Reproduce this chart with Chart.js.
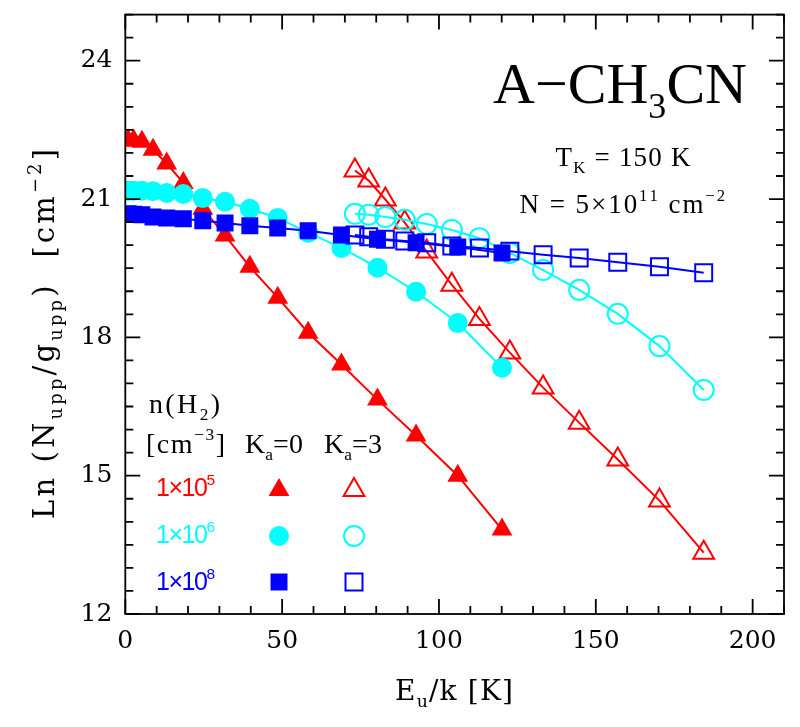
<!DOCTYPE html>
<html><head><meta charset="utf-8">
<script src="https://cdn.jsdelivr.net/npm/chart.js@4/dist/chart.umd.min.js"></script>
<style>html,body{margin:0;padding:0;background:#fff}#wrap{width:800px;height:727px;position:relative}</style>
</head><body><div id="wrap"><canvas id="c" width="800" height="727"></canvas></div>
<script>
// Upper-level energies (K) of the K=0 and K=3 ladders
const eK0 = [0.88,2.65,5.30,8.83,13.2,18.5,24.7,31.8,39.7,48.6,58.3,68.9,80.4,92.7,106.0,120.1];
const eK3 = [73.2,77.6,82.9,89.1,96.1,104.1,112.9,122.6,133.2,144.7,157.0,170.3,184.4];
// Ln(Nupp/gupp) for n(H2)=1e5, 1e6, 1e8
const red_K0  = [22.27,22.27,22.24,22.07,21.77,21.35,20.79,20.21,19.53,18.86,18.10,17.41,16.65,15.87,15.00,13.83];
const red_K3  = [21.62,21.40,20.99,20.49,19.86,19.14,18.40,17.67,16.91,16.15,15.35,14.46,13.33];
const cyan_K0 = [21.18,21.18,21.18,21.17,21.13,21.11,21.02,20.94,20.79,20.59,20.27,19.94,19.51,18.99,18.31,17.34];
const cyan_K3 = [20.68,20.66,20.61,20.55,20.46,20.33,20.15,19.83,19.46,19.03,18.51,17.81,16.86];
const blue_K0 = [20.68,20.67,20.66,20.61,20.59,20.57,20.53,20.48,20.42,20.37,20.31,20.22,20.13,20.05,19.96,19.83];
const blue_K3 = [20.22,20.18,20.13,20.09,20.05,19.98,19.94,19.87,19.79,19.72,19.63,19.53,19.40];
const densityExp = ['5','6','8'];
const xTickVals = [0,50,100,150,200];
const yTickVals = [12,15,18,21,24];

const RED='#ff0000', CYAN='#00ffff', BLUE='#0000ff';
const R_TRI = 12, R_CIR = 10, R_SQ = 12;
const zip = (xs, ys) => xs.map((x,i)=>({x, y: ys[i]}));

function ds(xs, ys, color, style, filled, radius){
  return {
    data: zip(xs, ys), showLine: true, borderColor: color, borderWidth: 2,
    backgroundColor: filled ? color : 'rgba(0,0,0,0)',
    pointBackgroundColor: filled ? color : 'rgba(0,0,0,0)',
    pointBorderColor: color, pointBorderWidth: filled ? 0 : 2,
    pointStyle: style, pointRadius: radius, pointHoverRadius: radius, tension: 0
  };
}

function drawRich(ctx, segs, o){
  const size=o.size, fam=o.family;
  ctx.letterSpacing = '0px';
  const parts = segs.map(([t,m]) => {
    const fs = m ? size*0.62 : size;
    ctx.font = fs + 'px "' + fam + '"';
    return {t, m, fs, w: ctx.measureText(t).width, n: [...t].length};
  });
  const nat = parts.reduce((a,p)=>a+p.w,0);
  const n = parts.reduce((a,p)=>a+p.n,0);
  const ls = o.width ? (o.width - nat)/(n-1) : 0;
  const total = nat + ls*(n-1);
  let cx = o.align==='center' ? o.x - total/2 : o.align==='right' ? o.x - total : o.x;
  ctx.fillStyle = o.color || '#000';
  ctx.textAlign='left'; ctx.textBaseline='alphabetic';
  for (const p of parts){
    ctx.font = p.fs + 'px "' + fam + '"';
    const dy = p.m === -1 ? size*0.26 : p.m === 1 ? -size*0.45 : 0;
    let px = cx;
    for (const ch of [...p.t]) {
      ctx.fillText(ch, px, o.y + dy);
      px += ctx.measureText(ch).width + ls;
    }
    cx = px;
  }
}

function marker(ctx, style, x, y, r, color, filled){
  ctx.save();
  ctx.beginPath();
  if (style==='triangle'){
    const w = r*Math.sin(2*Math.PI/3);
    ctx.moveTo(x, y-r); ctx.lineTo(x+w, y+r/2); ctx.lineTo(x-w, y+r/2); ctx.closePath();
  } else if (style==='circle'){
    ctx.arc(x, y, r, 0, Math.PI*2);
  } else {
    const s = r*Math.SQRT1_2; ctx.rect(x-s, y-s, 2*s, 2*s);
  }
  if (filled){ ctx.fillStyle=color; ctx.fill(); }
  else { ctx.strokeStyle=color; ctx.lineWidth=2; ctx.stroke(); }
  ctx.restore();
}

const decor = {
  id: 'decor',
  afterDraw(chart){
    const ctx = chart.ctx, xs = chart.scales.x, ys = chart.scales.y;
    const {left,right,top,bottom} = chart.chartArea;
    ctx.save();
    ctx.strokeStyle='#000'; ctx.lineWidth=1.8;
    ctx.strokeRect(left, top, right-left, bottom-top);
    ctx.beginPath();
    for (let i=0;i<=21;i++){
      const px = xs.getPixelForValue(i*10);
      const len = (i%5===0) ? 15 : 8;
      ctx.moveTo(px, bottom); ctx.lineTo(px, bottom-len);
      ctx.moveTo(px, top); ctx.lineTo(px, top+len);
    }
    for (let i=0;i<=26;i++){
      const py = ys.getPixelForValue(12+i*0.5);
      const len = (i%6===0) ? 15 : 8;
      ctx.moveTo(left, py); ctx.lineTo(left+len, py);
      ctx.moveTo(right, py); ctx.lineTo(right-len, py);
    }
    ctx.stroke();

    const SERIF='Liberation Serif', DSERIF='DejaVu Serif', SANS='Liberation Sans';
    // title block
    drawRich(ctx, [['A\u2212CH',0],['3',-1],['CN',0]], {x:620, y:103, size:58, family:SERIF, align:'center', width:254});
    drawRich(ctx, [['T',0],['K',-1],[' = 150 K',0]], {x:623, y:166, size:27, family:SERIF, align:'center', width:135});
    drawRich(ctx, [['N = 5\u00d710',0],['11',1],[' cm',0],['\u22122',1]], {x:622, y:213, size:27, family:SERIF, align:'center', width:205});
    // axis titles
    drawRich(ctx, [['E',0],['u',-1],['/k [K]',0]], {x:454, y:700, size:28, family:DSERIF, align:'center', width:118});
    ctx.save(); ctx.translate(54, 334); ctx.rotate(-Math.PI/2);
    drawRich(ctx, [['Ln (N',0],['upp',-1],['/g',0],['upp',-1],[')  [cm',0],['\u22122',1],[']',0]], {x:0, y:0, size:29, family:DSERIF, align:'center', width:370});
    ctx.restore();
    // legend block
    drawRich(ctx, [['n(H',0],['2',-1],[')',0]], {x:149, y:413, size:28, family:SERIF, align:'left', width:71});
    drawRich(ctx, [['[cm',0],['\u22123',1],[']',0]], {x:146, y:453, size:28, family:SERIF, align:'left', width:79});
    drawRich(ctx, [['K',0],['a',-1],['=0',0]], {x:245, y:453, size:28, family:SERIF, align:'left', width:58});
    drawRich(ctx, [['K',0],['a',-1],['=3',0]], {x:324, y:453, size:28, family:SERIF, align:'left', width:58});
    const cols=[RED,CYAN,BLUE], styles=['triangle','circle','rect'], radii=[R_TRI,R_CIR,R_SQ], rowY=[496,543,590], mY=[490,536,582];
    for (let k=0;k<3;k++){
      drawRich(ctx, [['1\u00d710',0],[densityExp[k],1]], {x:156, y:rowY[k], size:25, family:SANS, align:'left', color:cols[k], width:59});
      marker(ctx, styles[k], 279, mY[k], radii[k], cols[k], true);
      marker(ctx, styles[k], 354, mY[k], radii[k], cols[k], false);
    }
    ctx.restore();
  }
};

new Chart(document.getElementById('c'), {
  type: 'scatter',
  data: { datasets: [
    ds(eK0, blue_K0, BLUE, 'rect', true, R_SQ),
    ds(eK3, blue_K3, BLUE, 'rect', false, R_SQ),
    ds(eK0, cyan_K0, CYAN, 'circle', true, R_CIR),
    ds(eK3, cyan_K3, CYAN, 'circle', false, R_CIR),
    ds(eK0, red_K0, RED, 'triangle', true, R_TRI),
    ds(eK3, red_K3, RED, 'triangle', false, R_TRI)
  ]},
  options: {
    responsive:false, animation:false, devicePixelRatio:1,
    layout:{padding:{top:14.6, right:16, left:0, bottom:0}},
    plugins:{legend:{display:false}, tooltip:{enabled:false}},
    events: [],
    scales:{
      x:{type:'linear', min:0, max:210,
         grid:{display:false, drawTicks:false}, border:{display:false},
         afterBuildTicks: s => { s.ticks = xTickVals.map(v=>({value:v})); },
         ticks:{font:{family:'DejaVu Serif', size:25}, color:'#000', padding:12, maxRotation:0, autoSkip:false},
         afterFit: s => { s.height = 113; s.paddingLeft = 0; s.paddingRight = 0; }},
      y:{type:'linear', min:12, max:25,
         grid:{display:false, drawTicks:false}, border:{display:false},
         afterBuildTicks: s => { s.ticks = yTickVals.map(v=>({value:v})); },
         ticks:{font:{family:'DejaVu Serif', size:25}, color:'#000', padding:13, autoSkip:false},
         afterFit: s => { s.width = 125.3; s.paddingTop = 0; s.paddingBottom = 0; }}
    }
  },
  plugins:[decor]
});
</script></body></html>
